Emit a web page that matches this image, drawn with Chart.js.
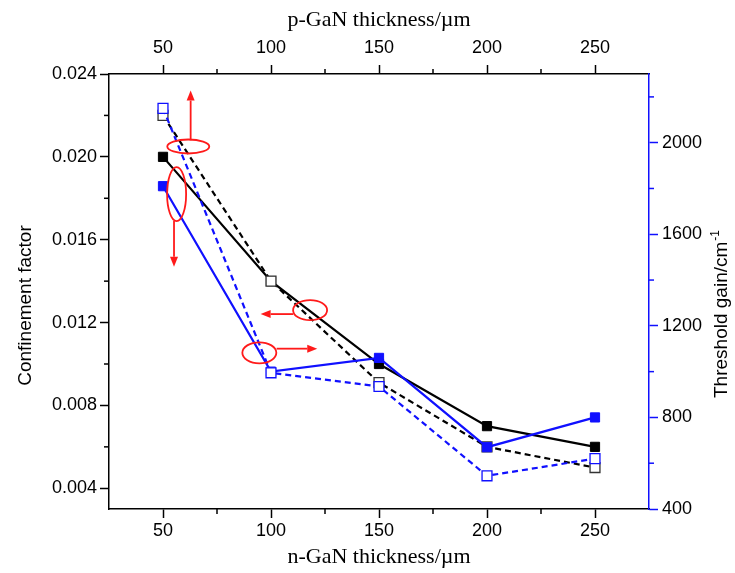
<!DOCTYPE html>
<html>
<head>
<meta charset="utf-8">
<script src="https://cdn.jsdelivr.net/npm/chart.js@4.4.1/dist/chart.umd.min.js"></script>
<style>
  html, body { margin: 0; padding: 0; background: #fff; }
  canvas { display: block; }
</style>
</head>
<body>
<canvas id="thickness-chart" width="735" height="573"></canvas>
<script>
// Layer thickness (µm) and the two quantities computed for each layer
const thickness = [50, 100, 150, 200, 250];
const confN = [0.020, 0.014, 0.010, 0.007, 0.006];   // confinement vs n-GaN
const confP = [0.022, 0.014, 0.0091, 0.006, 0.005];  // confinement vs p-GaN
const gainN = [1810, 1000, 1060, 670, 800];          // threshold gain vs n-GaN
const gainP = [2150, 995, 935, 545, 620];            // threshold gain vs p-GaN

// Axis ticks
const xTicks = [50, 100, 150, 200, 250];
const xMinor = [75, 125, 175, 225];
const confTicks = [0.004, 0.008, 0.012, 0.016, 0.020, 0.024];
const confMinor = [0.006, 0.010, 0.014, 0.018, 0.022];
const gainTicks = [400, 800, 1200, 1600, 2000];
const gainMinor = [600, 1000, 1400, 1800, 2200];

const BLUE = "#1010ff";
const BLACK = "#000000";
const RED = "#ff1a1a";
const SANS = "'Liberation Sans', Arial, sans-serif";
const SERIF = "'Liberation Serif', 'Times New Roman', serif";

const toPoints = (ys) => thickness.map((x, i) => ({ x: x, y: ys[i] }));

// Red markers pointing each curve pair to its axis (data units, radii in px)
const ellipses = [
  { x: 61.7, y: 0.0205, rx: 21, ry: 7 },
  { x: 56.3, y: 0.0182, rx: 9.5, ry: 27 },
  { x: 118.1, y: 0.0126, rx: 17, ry: 10 },
  { x: 94.6, y: 0.01054, rx: 17, ry: 10.5 }
];
const arrows = [
  { x1: 62.8, y1: 0.0208, x2: 62.8, y2: 0.0232 },
  { x1: 55.1, y1: 0.0169, x2: 55.1, y2: 0.0147 },
  { x1: 110.3, y1: 0.01241, x2: 95.2, y2: 0.01241 },
  { x1: 102.6, y1: 0.01074, x2: 121.4, y2: 0.01074 }
];

function fixedTicks(values) {
  return (scale) => { scale.ticks = values.map((v) => ({ value: v })); };
}

function drawArrow(ctx, x1, y1, x2, y2) {
  const ang = Math.atan2(y2 - y1, x2 - x1);
  const head = 10, half = 4;
  ctx.beginPath();
  ctx.moveTo(x1, y1);
  ctx.lineTo(x2 - head * Math.cos(ang), y2 - head * Math.sin(ang));
  ctx.stroke();
  ctx.beginPath();
  ctx.moveTo(x2, y2);
  ctx.lineTo(x2 - head * Math.cos(ang) - half * Math.sin(ang), y2 - head * Math.sin(ang) + half * Math.cos(ang));
  ctx.lineTo(x2 - head * Math.cos(ang) + half * Math.sin(ang), y2 - head * Math.sin(ang) - half * Math.cos(ang));
  ctx.closePath();
  ctx.fill();
}

// Short minor ticks, axis titles and the red markers
const extras = {
  id: "extras",
  afterDatasetsDraw(chart) {
    const ctx = chart.ctx;
    const xs = chart.scales.x, ys = chart.scales.yConf;
    ctx.save();
    ctx.strokeStyle = RED;
    ctx.fillStyle = RED;
    ctx.lineWidth = 1.8;
    ellipses.forEach((e) => {
      ctx.beginPath();
      ctx.ellipse(xs.getPixelForValue(e.x), ys.getPixelForValue(e.y), e.rx, e.ry, 0, 0, Math.PI * 2);
      ctx.stroke();
    });
    arrows.forEach((a) => {
      drawArrow(ctx, xs.getPixelForValue(a.x1), ys.getPixelForValue(a.y1),
        xs.getPixelForValue(a.x2), ys.getPixelForValue(a.y2));
    });
    ctx.restore();
  },
  afterDraw(chart) {
    const ctx = chart.ctx;
    const area = chart.chartArea;
    const len = 5;
    ctx.save();
    ctx.lineWidth = 1.5;

    const minor = (scale, values, color) => {
      ctx.strokeStyle = color;
      values.forEach((v) => {
        const p = scale.getPixelForValue(v);
        ctx.beginPath();
        if (scale.position === "left") { ctx.moveTo(area.left, p); ctx.lineTo(area.left - len, p); }
        if (scale.position === "right") { ctx.moveTo(area.right, p); ctx.lineTo(area.right + len, p); }
        if (scale.position === "bottom") { ctx.moveTo(p, area.bottom); ctx.lineTo(p, area.bottom + len); }
        if (scale.position === "top") { ctx.moveTo(p, area.top); ctx.lineTo(p, area.top - len); }
        ctx.stroke();
      });
    };
    minor(chart.scales.x, xMinor, BLACK);
    minor(chart.scales.xTop, xMinor, BLACK);
    minor(chart.scales.yConf, confMinor, BLACK);
    minor(chart.scales.yGain, gainMinor, BLUE);

    const cx = (area.left + area.right) / 2;
    const cy = (area.top + area.bottom) / 2;
    ctx.fillStyle = BLACK;
    ctx.textAlign = "center";
    ctx.textBaseline = "middle";

    ctx.font = "22px " + SERIF;
    ctx.fillText("p-GaN thickness/\u00b5m", cx, 20);
    ctx.fillText("n-GaN thickness/\u00b5m", cx, 557);

    ctx.font = "19px " + SANS;
    ctx.save();
    ctx.translate(26, cy + 14);
    ctx.rotate(-Math.PI / 2);
    ctx.fillText("Confinement factor", 0, 0);
    ctx.restore();

    // right title reads bottom to top, with a superscript exponent
    ctx.save();
    ctx.translate(722, cy + 23);
    ctx.rotate(-Math.PI / 2);
    const main = "Threshold gain/cm";
    ctx.font = "19px " + SANS;
    const wMain = ctx.measureText(main).width;
    ctx.font = "12px " + SANS;
    const wSup = ctx.measureText("-1").width;
    const start = -(wMain + wSup) / 2;
    ctx.textAlign = "left";
    ctx.font = "19px " + SANS;
    ctx.fillText(main, start, 0);
    ctx.font = "12px " + SANS;
    ctx.fillText("-1", start + wMain + 1, -6);
    ctx.restore();

    ctx.restore();
  }
};

const ctx = document.getElementById("thickness-chart").getContext("2d");
new Chart(ctx, {
  type: "line",
  data: {
    datasets: [
      {
        label: "Threshold gain (p-GaN)",
        data: toPoints(gainP),
        xAxisID: "xTop",
        yAxisID: "yGain",
        borderColor: BLUE,
        borderWidth: 2.2,
        borderDash: [6, 4],
        pointStyle: "rect",
        pointRadius: 7,
        pointBorderWidth: 1.3,
        pointBackgroundColor: "#ffffff",
        pointBorderColor: BLUE
      },
      {
        label: "Threshold gain (n-GaN)",
        data: toPoints(gainN),
        xAxisID: "x",
        yAxisID: "yGain",
        borderColor: BLUE,
        borderWidth: 2.2,
        pointStyle: "rect",
        pointRadius: 6.5,
        pointBorderWidth: 1,
        pointBackgroundColor: BLUE,
        pointBorderColor: BLUE
      },
      {
        label: "Confinement factor (p-GaN)",
        data: toPoints(confP),
        xAxisID: "xTop",
        yAxisID: "yConf",
        borderColor: BLACK,
        borderWidth: 2.2,
        borderDash: [6, 4],
        pointStyle: "rect",
        pointRadius: 7,
        pointBorderWidth: 1.3,
        pointBackgroundColor: "#ffffff",
        pointBorderColor: "#333333"
      },
      {
        label: "Confinement factor (n-GaN)",
        data: toPoints(confN),
        xAxisID: "x",
        yAxisID: "yConf",
        borderColor: BLACK,
        borderWidth: 2.2,
        pointStyle: "rect",
        pointRadius: 6.5,
        pointBorderWidth: 1,
        pointBackgroundColor: BLACK,
        pointBorderColor: BLACK
      }
    ]
  },
  options: {
    responsive: false,
    animation: false,
    layout: { padding: 0 },
    elements: { line: { tension: 0 } },
    plugins: {
      legend: { display: false },
      tooltip: { enabled: false }
    },
    scales: {
      x: {
        type: "linear",
        position: "bottom",
        min: 25,
        max: 275,
        afterBuildTicks: fixedTicks(xTicks),
        afterFit: (s) => { s.height = 64; },
        grid: { drawOnChartArea: false, tickLength: 9, tickWidth: 1.5, tickColor: BLACK },
        border: { color: BLACK, width: 1.5 },
        ticks: { color: BLACK, padding: 2, font: { family: SANS, size: 18 }, callback: (v) => String(v) }
      },
      xTop: {
        type: "linear",
        position: "top",
        min: 25,
        max: 275,
        afterBuildTicks: fixedTicks(xTicks),
        afterFit: (s) => { s.height = 74; },
        grid: { drawOnChartArea: false, tickLength: 9, tickWidth: 1.5, tickColor: BLACK },
        border: { color: BLACK, width: 1.5 },
        ticks: { color: BLACK, padding: 6, font: { family: SANS, size: 18 }, callback: (v) => String(v) }
      },
      yConf: {
        type: "linear",
        position: "left",
        min: 0.003,
        max: 0.024,
        afterBuildTicks: fixedTicks(confTicks),
        afterFit: (s) => { s.width = 109; },
        grid: { drawOnChartArea: false, tickLength: 9, tickWidth: 1.5, tickColor: BLACK },
        border: { color: BLACK, width: 1.5 },
        ticks: {
          color: BLACK,
          padding: 3,
          font: { family: SANS, size: 18 },
          callback: (v) => v.toFixed(3)
        }
      },
      yGain: {
        type: "linear",
        position: "right",
        min: 400,
        max: 2300,
        afterBuildTicks: fixedTicks(gainTicks),
        afterFit: (s) => { s.width = 86; },
        grid: { drawOnChartArea: false, tickLength: 9, tickWidth: 1.5, tickColor: BLUE },
        border: { color: BLUE, width: 1.5 },
        ticks: { color: BLACK, padding: 4, font: { family: SANS, size: 18 }, callback: (v) => String(v) }
      }
    }
  },
  plugins: [extras]
});
</script>
</body>
</html>
